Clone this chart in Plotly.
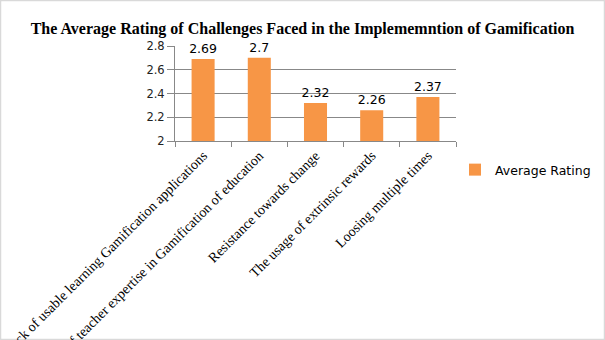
import plotly.graph_objects as go

# Challenge categories and their average ratings
challenges = [
    "Lack of usable learning Gamification applications",
    "Lack of teacher expertise in Gamification of education",
    "Resistance towards change",
    "The usage of extrinsic rewards",
    "Loosing multiple times",
]
avg_rating = [2.69, 2.7, 2.32, 2.26, 2.37]
rating_labels = ["2.69", "2.7", "2.32", "2.26", "2.37"]
y_ticks = [2, 2.2, 2.4, 2.6, 2.8]
y_tick_text = ["2", "2.2", "2.4", "2.6", "2.8"]

W, H = 605, 340
L, R, T, B = 175, 149, 46, 199
pw, ph = W - L - R, H - T - B


def px_x(px):
    return (px - L) / pw


def px_y(py):
    return (H - B - py) / ph


fig = go.Figure()
fig.add_trace(go.Bar(
    x=challenges,
    y=avg_rating,
    name="Average Rating",
    marker=dict(color="#F79646", line=dict(width=0)),
    text=rating_labels,
    textposition="outside",
    constraintext="none",
    cliponaxis=False,
    textfont=dict(family="DejaVu Sans", size=12.5, color="#000000"),
))

fig.update_layout(
    width=W, height=H,
    margin=dict(l=L, r=R, t=T, b=B, autoexpand=False),
    paper_bgcolor="white",
    plot_bgcolor="white",
    bargap=0.59,
    title=dict(
        text="<b>The Average Rating of Challenges Faced in the Implememntion of Gamification</b>",
        font=dict(family="Liberation Serif", size=16, color="#000000"),
        x=0.5, xref="container", xanchor="center",
        y=1 - 28 / H, yref="container", yanchor="middle",
    ),
    xaxis=dict(
        tickangle=-45,
        tickfont=dict(family="Liberation Serif", size=14, color="#000000"),
        showline=True, linecolor="#888888", linewidth=1,
        ticks="outside", ticklen=5, tickcolor="#888888",
        tickson="boundaries",
        showgrid=False,
        automargin=False,
    ),
    yaxis=dict(
        range=[2, 2.8],
        tickvals=y_ticks, ticktext=y_tick_text,
        tickfont=dict(family="DejaVu Sans", size=11.5, color="#222222"),
        showline=True, linecolor="#888888", linewidth=1,
        ticks="outside", ticklen=7, tickcolor="#888888",
        showgrid=True, gridcolor="#888888", gridwidth=1,
        zeroline=False,
        automargin=False,
    ),
    showlegend=True,
    legend=dict(
        x=px_x(455), xanchor="left",
        y=px_y(170), yanchor="middle",
        font=dict(family="DejaVu Sans", size=12.5, color="#000000"),
        bgcolor="rgba(0,0,0,0)",
        itemwidth=30,
    ),
    shapes=[
        dict(type="rect", xref="paper", yref="paper",
             x0=px_x(0.5), x1=px_x(W - 0.5), y0=px_y(H - 0.5), y1=px_y(0.5),
             line=dict(color="#D9D9D9", width=1.5), layer="below"),
    ],
)

fig.write_html("out.html")
